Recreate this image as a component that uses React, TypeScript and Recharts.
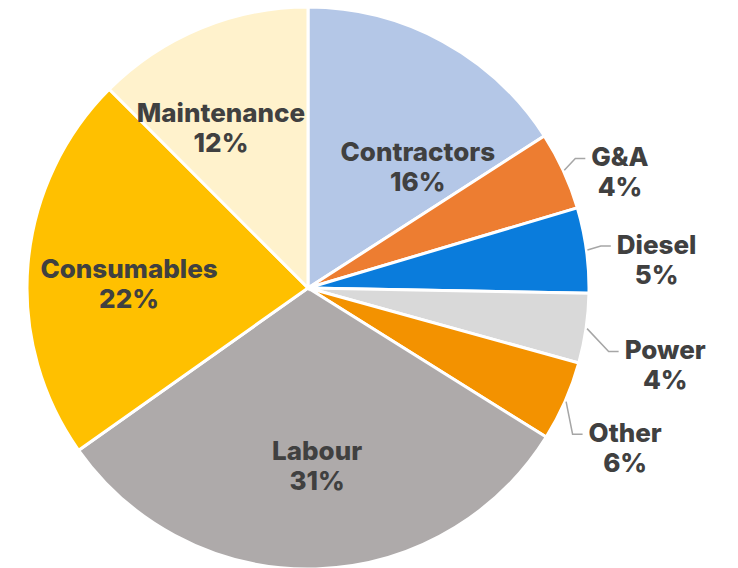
import { PieChart, Pie, Cell } from 'recharts';

const names = ['Contractors', 'G&A', 'Diesel', 'Power', 'Other', 'Labour', 'Consumables', 'Maintenance'];
const shares = [15.9, 4.5, 4.9, 4.0, 4.6, 31.3, 22.3, 12.5];
const pctLabels = ['16%', '4%', '5%', '4%', '6%', '31%', '22%', '12%'];
const colors = ['#B4C7E7', '#ED7D31', '#0A7CDC', '#D9D9D9', '#F39200', '#AEAAAA', '#FFC000', '#FFF2CC'];
const outside = [false, true, true, true, true, false, false, false];
// label placement: distance as a fraction of the radius, and a clockwise nudge in degrees
const labelDist = [0.584, 1.185, 1.245, 1.3, 1.263, 0.633, 0.637, 0.651];
const labelNudge = [13.4, 4.2, 3, 3.8, 2.9, -1.3, -3.4, -5.9];

const data = names.map((name, i) => ({ name, value: shares[i], pct: pctLabels[i] }));

const RADIAN = Math.PI / 180;
const FONT = 26;
const WEIGHT = 800;
const FAMILY = 'Inter, sans-serif';
const TEXT = '#404040';

let ctx: CanvasRenderingContext2D | null = null;
const measure = (s: string) => {
  if (!ctx) ctx = document.createElement('canvas').getContext('2d');
  if (!ctx) return s.length * FONT * 0.62;
  ctx.font = `${WEIGHT} ${FONT}px ${FAMILY}`;
  return ctx.measureText(s).width;
};

const renderLabel = (props: any) => {
  const { cx, cy, midAngle, outerRadius, index } = props;
  const name = names[index];
  const pct = pctLabels[index];
  const textStyle = { fontFamily: FAMILY, fontWeight: WEIGHT, fontSize: FONT, fill: TEXT };

  const a = midAngle - labelNudge[index];
  const rt = outerRadius * labelDist[index];
  const tx = cx + rt * Math.cos(-a * RADIAN);
  const ty = cy + rt * Math.sin(-a * RADIAN);
  const ny = ty - 15;

  let leader = null;
  if (outside[index]) {
    const sx = cx + (outerRadius + 1) * Math.cos(-midAngle * RADIAN);
    const sy = cy + (outerRadius + 1) * Math.sin(-midAngle * RADIAN);
    const ex = tx - measure(name) / 2 - 6;
    const elbowX = Math.max(sx, ex - 10);
    leader = (
      <polyline
        points={`${sx},${sy} ${elbowX},${ny + 2} ${ex},${ny + 2}`}
        fill="none"
        stroke="#A6A6A6"
        strokeWidth={1.5}
      />
    );
  }

  return (
    <g>
      {leader}
      <text x={tx} y={ny} textAnchor="middle" dominantBaseline="central" style={textStyle}>
        {name}
      </text>
      <text x={tx} y={ty + 15} textAnchor="middle" dominantBaseline="central" style={textStyle}>
        {pct}
      </text>
    </g>
  );
};

export default function App() {
  return (
    <div style={{ position: 'absolute', left: 0, top: 0, width: 738, height: 568, background: '#fff' }}>
      <PieChart width={738} height={568} margin={{ top: 0, right: 0, bottom: 0, left: 0 }}>
        <Pie
          data={data}
          dataKey="value"
          cx={308}
          cy={288}
          outerRadius={281}
          startAngle={90}
          endAngle={-270}
          stroke="#fff"
          strokeWidth={3}
          labelLine={false}
          label={renderLabel}
          isAnimationActive={false}
        >
          {data.map((entry, i) => (
            <Cell key={entry.name} fill={colors[i]} />
          ))}
        </Pie>
      </PieChart>
    </div>
  );
}
